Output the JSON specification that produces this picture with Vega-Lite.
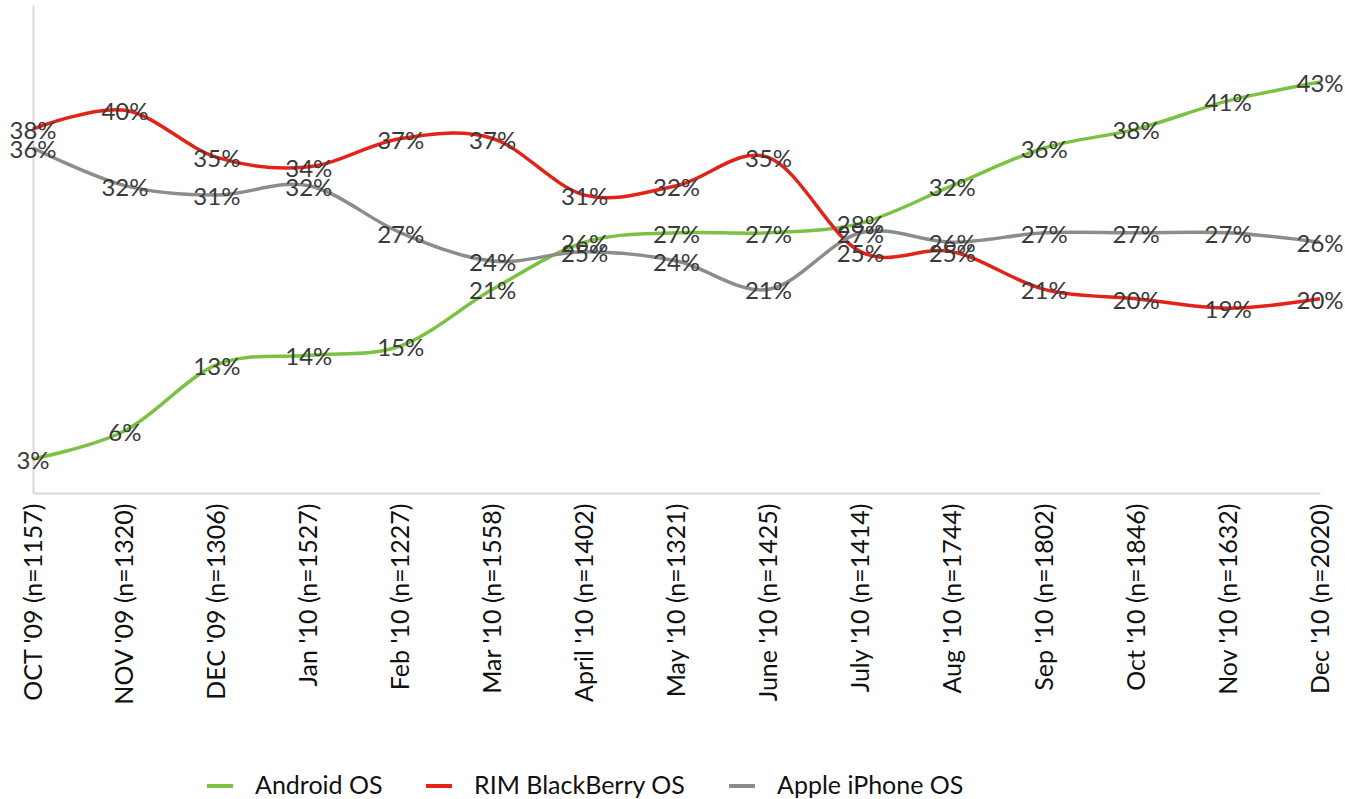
{
  "$schema": "https://vega.github.io/schema/vega-lite/v6.json",
  "autosize": {"type": "none"},
  "width": 1287,
  "height": 488,
  "padding": {"left": 33, "top": 5, "right": 25, "bottom": 306},
  "background": "white",
  "config": {"view": {"stroke": null}, "font": "Lato"},
  "data": {"values": [
    {"month": "OCT '09 (n=1157)", "series": "Android OS", "value": 0.03},
    {"month": "NOV '09 (n=1320)", "series": "Android OS", "value": 0.06},
    {"month": "DEC '09 (n=1306)", "series": "Android OS", "value": 0.13},
    {"month": "Jan '10 (n=1527)", "series": "Android OS", "value": 0.14},
    {"month": "Feb '10 (n=1227)", "series": "Android OS", "value": 0.15},
    {"month": "Mar '10 (n=1558)", "series": "Android OS", "value": 0.21},
    {"month": "April '10 (n=1402)", "series": "Android OS", "value": 0.26},
    {"month": "May '10 (n=1321)", "series": "Android OS", "value": 0.27},
    {"month": "June '10 (n=1425)", "series": "Android OS", "value": 0.27},
    {"month": "July '10 (n=1414)", "series": "Android OS", "value": 0.28},
    {"month": "Aug '10 (n=1744)", "series": "Android OS", "value": 0.32},
    {"month": "Sep '10 (n=1802)", "series": "Android OS", "value": 0.36},
    {"month": "Oct '10 (n=1846)", "series": "Android OS", "value": 0.38},
    {"month": "Nov '10 (n=1632)", "series": "Android OS", "value": 0.41},
    {"month": "Dec '10 (n=2020)", "series": "Android OS", "value": 0.43},
    {"month": "OCT '09 (n=1157)", "series": "RIM BlackBerry OS", "value": 0.38},
    {"month": "NOV '09 (n=1320)", "series": "RIM BlackBerry OS", "value": 0.40},
    {"month": "DEC '09 (n=1306)", "series": "RIM BlackBerry OS", "value": 0.35},
    {"month": "Jan '10 (n=1527)", "series": "RIM BlackBerry OS", "value": 0.34},
    {"month": "Feb '10 (n=1227)", "series": "RIM BlackBerry OS", "value": 0.37},
    {"month": "Mar '10 (n=1558)", "series": "RIM BlackBerry OS", "value": 0.37},
    {"month": "April '10 (n=1402)", "series": "RIM BlackBerry OS", "value": 0.31},
    {"month": "May '10 (n=1321)", "series": "RIM BlackBerry OS", "value": 0.32},
    {"month": "June '10 (n=1425)", "series": "RIM BlackBerry OS", "value": 0.35},
    {"month": "July '10 (n=1414)", "series": "RIM BlackBerry OS", "value": 0.25},
    {"month": "Aug '10 (n=1744)", "series": "RIM BlackBerry OS", "value": 0.25},
    {"month": "Sep '10 (n=1802)", "series": "RIM BlackBerry OS", "value": 0.21},
    {"month": "Oct '10 (n=1846)", "series": "RIM BlackBerry OS", "value": 0.20},
    {"month": "Nov '10 (n=1632)", "series": "RIM BlackBerry OS", "value": 0.19},
    {"month": "Dec '10 (n=2020)", "series": "RIM BlackBerry OS", "value": 0.20},
    {"month": "OCT '09 (n=1157)", "series": "Apple iPhone OS", "value": 0.36},
    {"month": "NOV '09 (n=1320)", "series": "Apple iPhone OS", "value": 0.32},
    {"month": "DEC '09 (n=1306)", "series": "Apple iPhone OS", "value": 0.31},
    {"month": "Jan '10 (n=1527)", "series": "Apple iPhone OS", "value": 0.32},
    {"month": "Feb '10 (n=1227)", "series": "Apple iPhone OS", "value": 0.27},
    {"month": "Mar '10 (n=1558)", "series": "Apple iPhone OS", "value": 0.24},
    {"month": "April '10 (n=1402)", "series": "Apple iPhone OS", "value": 0.25},
    {"month": "May '10 (n=1321)", "series": "Apple iPhone OS", "value": 0.24},
    {"month": "June '10 (n=1425)", "series": "Apple iPhone OS", "value": 0.21},
    {"month": "July '10 (n=1414)", "series": "Apple iPhone OS", "value": 0.27},
    {"month": "Aug '10 (n=1744)", "series": "Apple iPhone OS", "value": 0.26},
    {"month": "Sep '10 (n=1802)", "series": "Apple iPhone OS", "value": 0.27},
    {"month": "Oct '10 (n=1846)", "series": "Apple iPhone OS", "value": 0.27},
    {"month": "Nov '10 (n=1632)", "series": "Apple iPhone OS", "value": 0.27},
    {"month": "Dec '10 (n=2020)", "series": "Apple iPhone OS", "value": 0.26}
  ]},
  "encoding": {
    "x": {
      "field": "month", "type": "ordinal", "sort": null,
      "scale": {"type": "point", "padding": 0},
      "axis": {
        "title": null, "labelAngle": -90, "labelFontSize": 25, "labelColor": "#111111",
        "labelPadding": 10, "ticks": false, "domainColor": "#d9d9d9", "domainWidth": 2,
        "labelFont": "Lato", "labelLimit": 0
      }
    },
    "y": {
      "field": "value", "type": "quantitative",
      "scale": {"domain": [-0.0061, 0.5117], "nice": false, "zero": false},
      "axis": {"title": null, "labels": false, "ticks": false, "grid": false, "domainColor": "#d9d9d9", "domainWidth": 2}
    }
  },
  "layer": [
    {
      "mark": {"type": "line", "interpolate": "cardinal", "strokeWidth": 3.5},
      "encoding": {
        "color": {
          "field": "series", "type": "nominal",
          "scale": {"domain": ["Android OS", "RIM BlackBerry OS", "Apple iPhone OS"], "range": ["#7cc242", "#e2231a", "#8c8c8c"]},
          "legend": {
            "title": null, "orient": "none", "direction": "horizontal",
            "legendX": 172, "legendY": 766,
            "symbolType": "stroke", "symbolStrokeWidth": 4, "symbolSize": 676,
            "labelFontSize": 25, "labelColor": "#111111", "labelFont": "Lato",
            "labelLimit": 0, "columnPadding": 35, "labelOffset": 20
          }
        }
      }
    },
    {
      "mark": {"type": "text", "fontSize": 24, "color": "#3a3a3a", "dy": 3, "font": "Lato"},
      "encoding": {
        "text": {"field": "value", "type": "quantitative", "format": ".0%"}
      }
    }
  ]
}
